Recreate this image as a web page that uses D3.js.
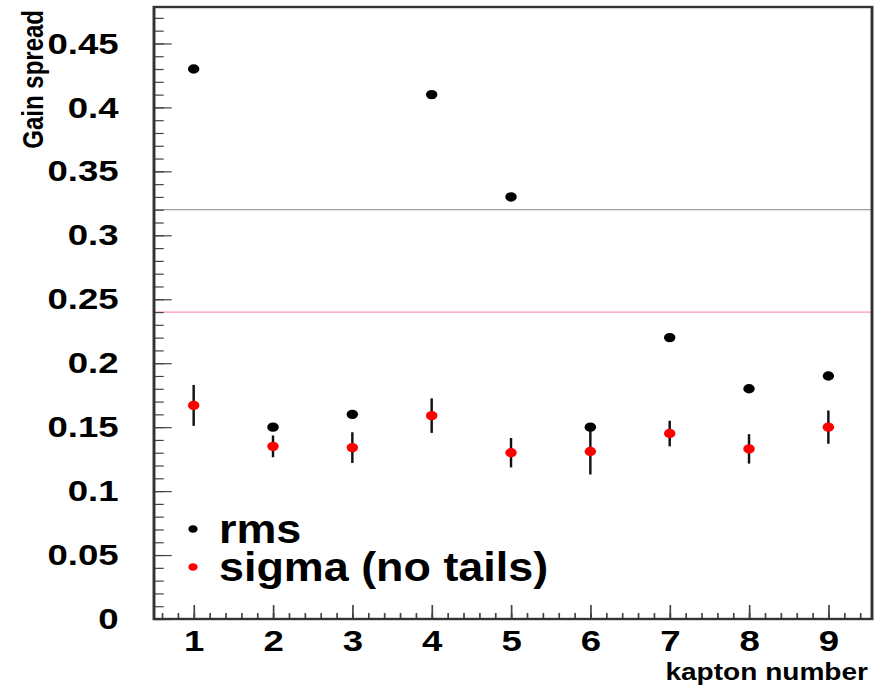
<!DOCTYPE html>
<html>
<head>
<meta charset="utf-8">
<script src="https://cdn.jsdelivr.net/npm/d3@7"></script>
<style>
  html, body { margin: 0; padding: 0; background: #fff; }
  svg { display: block; }
</style>
</head>
<body>
<svg id="chart" width="890" height="691"></svg>
<script>
const kaptons = [1, 2, 3, 4, 5, 6, 7, 8, 9];
const rmsValues = [0.43, 0.15, 0.16, 0.41, 0.33, 0.15, 0.22, 0.18, 0.19];
const sigmaValues = [0.167, 0.135, 0.134, 0.159, 0.130, 0.131, 0.145, 0.133, 0.150];
const sigmaErrors = [0.016, 0.0085, 0.012, 0.0135, 0.0115, 0.018, 0.010, 0.0115, 0.013];
const refLines = [
  { value: 0.32, color: "#a0a0a0" },
  { value: 0.24, color: "#ff9aae" }
];
const yTicks = [0, 0.05, 0.1, 0.15, 0.2, 0.25, 0.3, 0.35, 0.4, 0.45];
const legendItems = [
  { label: "rms", color: "#000" },
  { label: "sigma (no tails)", color: "#ff0000" }
];

// the original picture is stretched sideways, so draw in a narrower box and let the svg stretch it
const SX = 1.22;
const width = 890 / SX;
const height = 691;
const font = "'Liberation Sans', Arial, Helvetica, sans-serif";

const svg = d3.select("#chart")
  .attr("viewBox", `0 0 ${width} ${height}`)
  .attr("preserveAspectRatio", "none");

const plotLeft = 154 / SX, plotRight = 872 / SX, plotTop = 7, plotBottom = 619;

const x = d3.scaleLinear().domain([0.5, 9.55]).range([plotLeft, plotRight]);
const y = d3.scaleLinear().domain([0, 0.4785]).range([plotBottom, plotTop]);

const data = kaptons.map((k, i) => ({
  k, rms: rmsValues[i], sigma: sigmaValues[i], err: sigmaErrors[i]
}));

// reference lines
svg.append("g")
  .selectAll("line")
  .data(refLines)
  .join("line")
  .attr("x1", plotLeft)
  .attr("x2", plotRight)
  .attr("y1", d => y(d.value))
  .attr("y2", d => y(d.value))
  .attr("stroke", d => d.color)
  .attr("stroke-width", 1.2);

// minor ticks
svg.append("g")
  .attr("transform", `translate(${plotLeft},0)`)
  .call(d3.axisLeft(y).tickValues(d3.range(0, 0.475, 0.01)).tickSize(-8).tickFormat(""))
  .call(g => g.select(".domain").remove())
  .call(g => g.selectAll("line").attr("stroke", "#444").attr("stroke-width", 1.2));

svg.append("g")
  .attr("transform", `translate(0,${plotBottom})`)
  .call(d3.axisBottom(x).tickValues(d3.range(0.6, 9.5, 0.2)).tickSize(-6).tickFormat(""))
  .call(g => g.select(".domain").remove())
  .call(g => g.selectAll("line").attr("stroke", "#444").attr("stroke-width", 1.4));

// major ticks with labels
const yAxis = svg.append("g")
  .attr("transform", `translate(${plotLeft},0)`)
  .call(d3.axisLeft(y).tickValues(yTicks).tickSize(-14.5).tickPadding(29).tickFormat(d3.format("")))
  .call(g => g.select(".domain").remove());
yAxis.selectAll("line").attr("stroke", "#444").attr("stroke-width", 1.2);
yAxis.selectAll("text")
  .attr("font-family", font)
  .attr("font-size", 30)
  .attr("font-weight", "bold")
  .attr("fill", "#000");

const xAxis = svg.append("g")
  .attr("transform", `translate(0,${plotBottom})`)
  .call(d3.axisBottom(x).tickValues(kaptons).tickSize(-14).tickPadding(11).tickFormat(d3.format("d")))
  .call(g => g.select(".domain").remove());
xAxis.selectAll("line").attr("stroke", "#444").attr("stroke-width", 1.4);
xAxis.selectAll("text")
  .attr("font-family", font)
  .attr("font-size", 30)
  .attr("font-weight", "bold")
  .attr("fill", "#000");

// frame
svg.append("rect")
  .attr("x", plotLeft)
  .attr("y", plotTop)
  .attr("width", plotRight - plotLeft)
  .attr("height", plotBottom - plotTop)
  .attr("fill", "none")
  .attr("stroke", "#333")
  .attr("stroke-width", 2.4);

// error bars
svg.append("g")
  .selectAll("line")
  .data(data)
  .join("line")
  .attr("x1", d => x(d.k))
  .attr("x2", d => x(d.k))
  .attr("y1", d => y(d.sigma - d.err))
  .attr("y2", d => y(d.sigma + d.err))
  .attr("stroke", "#111")
  .attr("stroke-width", 2);

svg.append("g")
  .selectAll("circle")
  .data(data)
  .join("circle")
  .attr("cx", d => x(d.k))
  .attr("cy", d => y(d.rms))
  .attr("r", 4.7)
  .attr("fill", "#000");

svg.append("g")
  .selectAll("circle")
  .data(data)
  .join("circle")
  .attr("cx", d => x(d.k))
  .attr("cy", d => y(d.sigma))
  .attr("r", 4.7)
  .attr("fill", "#ff0000");

// axis titles
svg.append("text")
  .attr("transform", `translate(${43 / SX},10) rotate(-90)`)
  .attr("text-anchor", "end")
  .attr("font-family", font)
  .attr("font-size", 24)
  .attr("font-weight", "bold")
  .text("Gain spread");

svg.append("text")
  .attr("x", 868 / SX)
  .attr("y", 680)
  .attr("text-anchor", "end")
  .attr("font-family", font)
  .attr("font-size", 23)
  .attr("font-weight", "bold")
  .text("kapton number");

// legend
const legend = svg.append("g")
  .selectAll("g")
  .data(legendItems)
  .join("g")
  .attr("transform", (d, i) => `translate(${193 / SX},${529 + i * 38})`);

legend.append("circle")
  .attr("r", 3.8)
  .attr("fill", d => d.color);

legend.append("text")
  .attr("transform", `translate(${(219 - 193) / SX},13.5) scale(0.92,1)`)
  .attr("font-family", font)
  .attr("font-size", 40)
  .attr("font-weight", "bold")
  .attr("fill", "#000")
  .text(d => d.label);
</script>
</body>
</html>
